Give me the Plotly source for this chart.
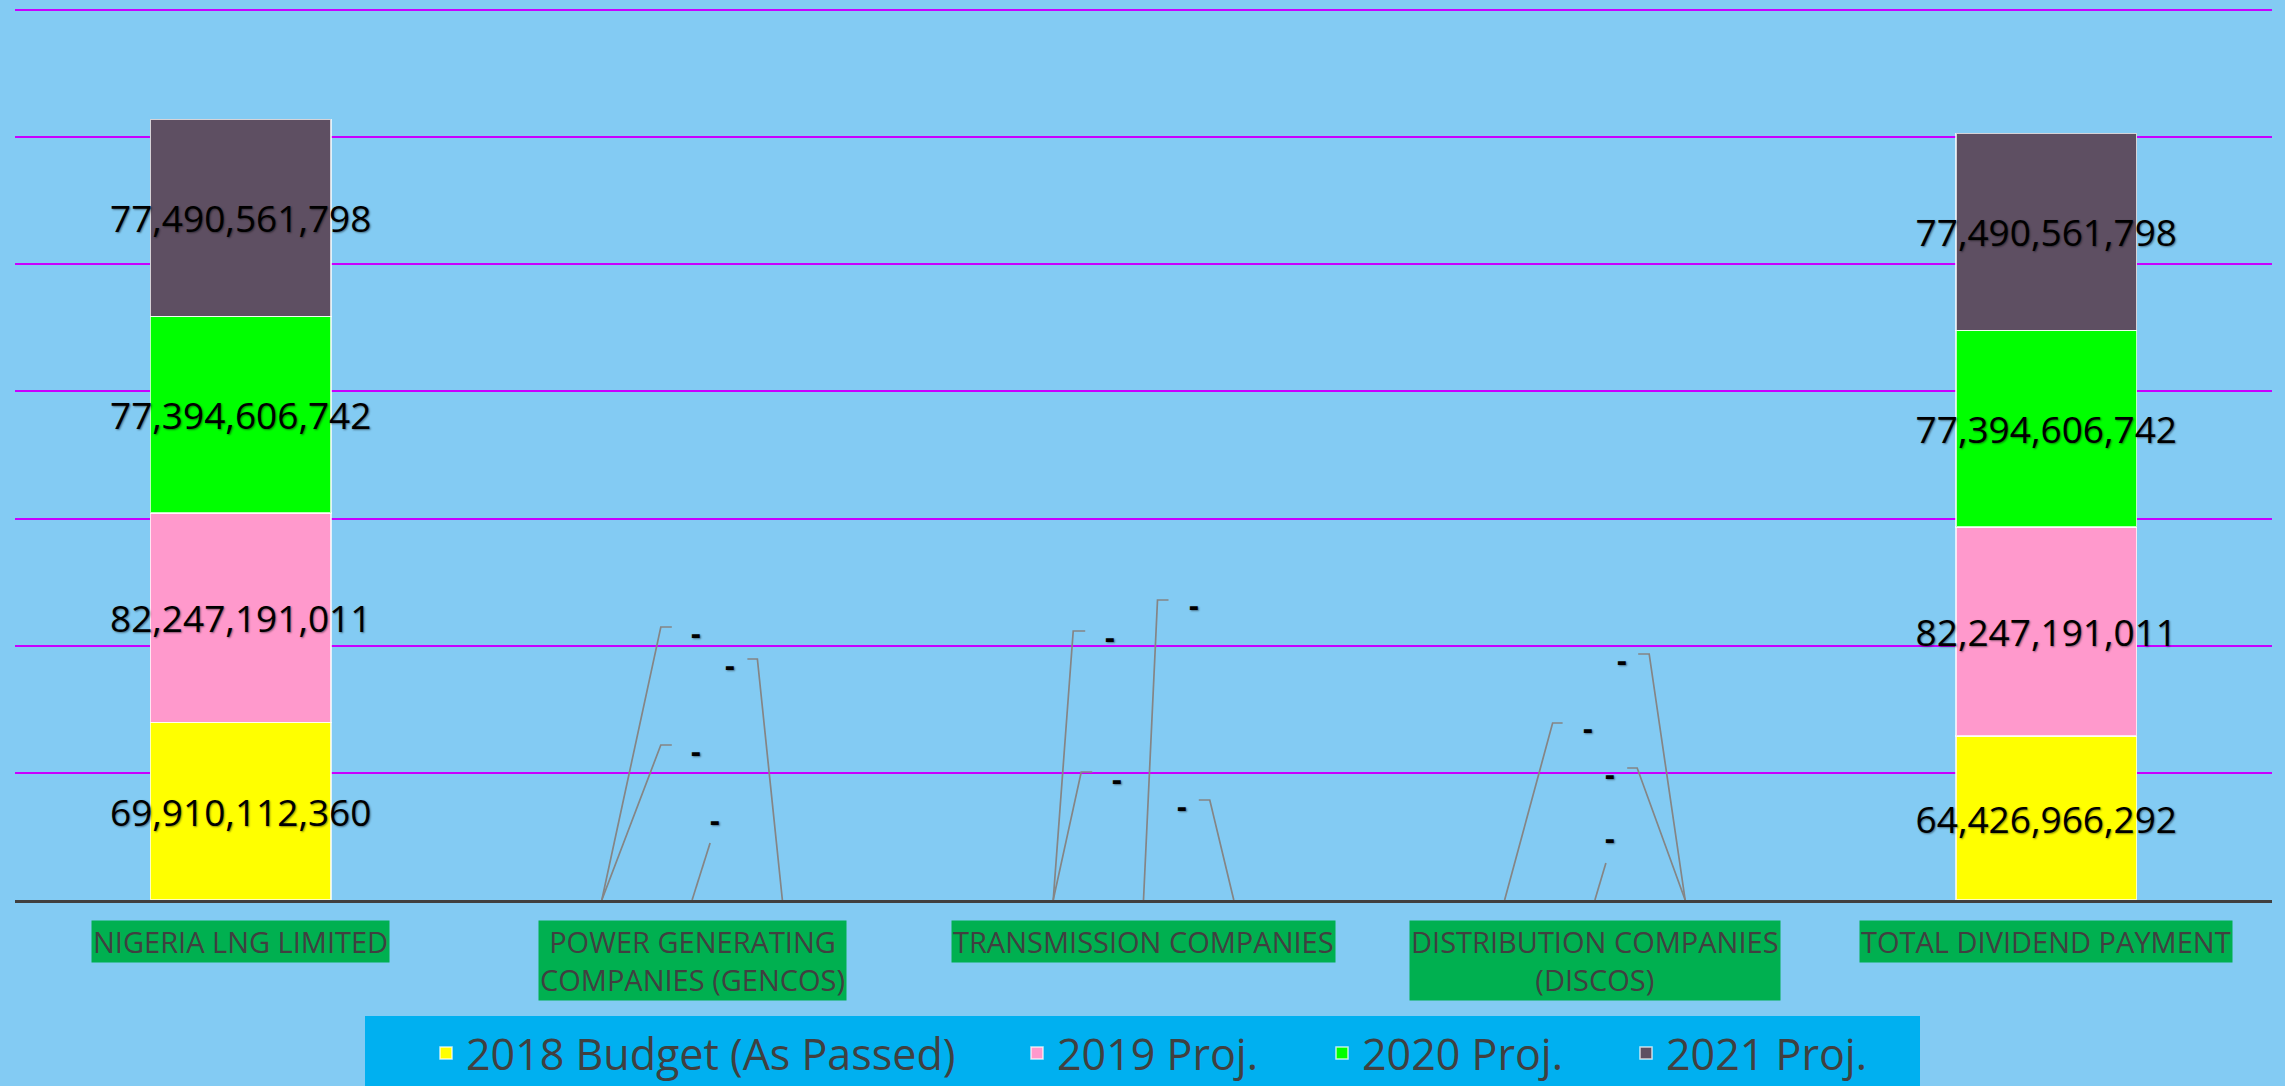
import plotly.graph_objects as go

# ---------------- data ----------------
categories = [
    "NIGERIA LNG LIMITED",
    "POWER GENERATING COMPANIES (GENCOS)",
    "TRANSMISSION COMPANIES",
    "DISTRIBUTION COMPANIES (DISCOS)",
    "TOTAL DIVIDEND PAYMENT",
]
tick_labels = [
    "NIGERIA LNG LIMITED",
    "POWER GENERATING<br>COMPANIES (GENCOS)",
    "TRANSMISSION COMPANIES",
    "DISTRIBUTION COMPANIES<br>(DISCOS)",
    "TOTAL DIVIDEND PAYMENT",
]
series_names = ["2018 Budget (As Passed)", "2019 Proj.", "2020 Proj.", "2021 Proj."]
budget_2018 = [69910112360, 0, 0, 0, 64426966292]
proj_2019 = [82247191011, 0, 0, 0, 82247191011]
proj_2020 = [77394606742, 0, 0, 0, 77394606742]
proj_2021 = [77490561798, 0, 0, 0, 77490561798]
series_values = [budget_2018, proj_2019, proj_2020, proj_2021]
series_colors = ["#FFFF00", "#FF99CC", "#00FF00", "#5E4F62"]

# ---------------- styling ----------------
BG = "#83CBF3"
GRID = "#C800FF"
BAR_WIDTH = 0.4
LABEL_FONT = "Open Sans, Lato, sans-serif"
W, H = 2285, 1086
M_L, M_R, M_T, M_B = 15, 13, 5, 186
PLOT_W = W - M_L - M_R
PLOT_H = H - M_T - M_B
legend_entry_widths = [546, 260, 259, 260]


def px_to_paper_x(px):
    return (px - M_L) / PLOT_W


def px_to_paper_y(py):
    return (H - M_B - py) / PLOT_H


# Excel-style leader-line callouts for the zero ("-") data labels:
# (anchor on bar: -1 left edge / 0 centre / 1 right edge,
#  line end dx, dy [px], tick length [px], label dx, dy [px])
callout_geometry = {
    1: [(-1, 59, 273, 11, 94, 268), (-1, 59, 155, 11, 94, 150),
        (0, 18, 57, 0, 23, 81), (1, -25, 241, -10, -52, 236)],
    2: [(-1, 20, 269, 12, 57, 264), (-1, 28, 128, 11, 64, 122),
        (0, 14, 300, 11, 50, 296), (1, -24, 100, -11, -52, 95)],
    3: [(-1, 48, 177, 10, 83, 173), (0, 11, 37, 0, 15, 63),
        (1, -48, 132, -10, -75, 127), (1, -36, 246, -11, -63, 241)],
}


def fmt(v):
    return "-" if v == 0 else f"{v:,.0f}"


fig = go.Figure()
for name, vals, col, lw in zip(series_names, series_values, series_colors, legend_entry_widths):
    fig.add_trace(go.Bar(
        name=name,
        x=categories,
        y=vals,
        marker=dict(color=col, line=dict(color="rgba(255,255,255,0.75)",
                                         width=[1.5 if v else 0 for v in vals])),
        text=[fmt(v) if v != 0 else "" for v in vals],
        textposition="inside",
        insidetextanchor="middle",
        textangle=0,
        constraintext="none",
        textfont=dict(family=LABEL_FONT, size=37, color="#000000",
                      shadow="1px 1px 2px rgba(0,0,0,0.45)"),
        width=BAR_WIDTH,
        legendwidth=lw,
        hovertemplate="%{x}<br>%{y:,.0f}<extra>" + name + "</extra>",
    ))

shapes = []
annotations = []

# zero-value callouts
for ci, geoms in callout_geometry.items():
    for si, (anchor, dx, dy, tick, ldx, ldy) in enumerate(geoms):
        v = series_values[si][ci]
        xa = ci + anchor * BAR_WIDTH / 2
        path = f"M0,0 L{dx},{dy}"
        if tick:
            path += f" L{dx + tick},{dy}"
        shapes.append(dict(
            type="path", xref="x", yref="y",
            xsizemode="pixel", ysizemode="pixel",
            xanchor=xa, yanchor=v, path=path,
            line=dict(color="#858585", width=1.7),
        ))
        annotations.append(dict(
            x=xa, y=v, xref="x", yref="y", text=fmt(v), showarrow=False,
            xshift=ldx, yshift=ldy,
            font=dict(family=LABEL_FONT, size=30, color="#000000", weight="bold",
                      shadow="1px 1px 2px rgba(0,0,0,0.45)"),
        ))

# category labels with green boxes
for cat, lab in zip(categories, tick_labels):
    annotations.append(dict(
        x=cat, y=0, xref="x", yref="paper", yanchor="top", yshift=-20,
        text=lab, showarrow=False, align="center",
        bgcolor="#00B050", borderpad=1,
        font=dict(family="Open Sans, sans-serif", size=29, color="#404040"),
    ))

# legend background panel
shapes.append(dict(
    type="rect", xref="paper", yref="paper", layer="below",
    x0=px_to_paper_x(365), x1=px_to_paper_x(1920),
    y0=px_to_paper_y(1095), y1=px_to_paper_y(1016),
    fillcolor="#00B0F0", line=dict(width=0),
))

fig.update_layout(
    width=W, height=H, autosize=False,
    paper_bgcolor=BG, plot_bgcolor=BG,
    margin=dict(l=M_L, r=M_R, t=M_T, b=M_B, autoexpand=False),
    barmode="stack",
    bargap=1 - BAR_WIDTH,
    showlegend=True,
    legend=dict(
        orientation="h", x=px_to_paper_x(426), xanchor="left",
        y=px_to_paper_y(1053), yanchor="middle",
        bgcolor="rgba(0,0,0,0)", traceorder="normal",
        font=dict(family="Open Sans, sans-serif", size=43, color="#404040"),
    ),
    xaxis=dict(
        showticklabels=False, ticks="", showgrid=False,
        showline=True, linecolor="#404040", linewidth=3,
    ),
    yaxis=dict(
        range=[0, 352e9], dtick=50e9, showticklabels=False, ticks="",
        showgrid=True, gridcolor=GRID, gridwidth=2, zeroline=False,
    ),
    shapes=shapes,
    annotations=annotations,
)

fig.write_html("out.html")
